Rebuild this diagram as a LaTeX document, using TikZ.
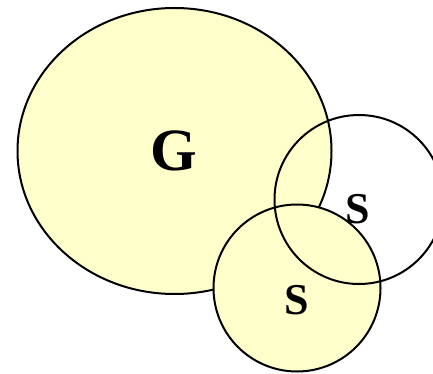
\documentclass[tikz,border=0pt]{standalone}
\usepackage{fontspec}
\setmainfont{Liberation Serif}
\usepackage{xcolor}
\definecolor{PaleYellow}{RGB}{255,255,204}
\usetikzlibrary{positioning}
\tikzset{
  setfill/.style={draw=black,fill=PaleYellow,line width=2pt},
  setline/.style={draw=black,line width=2pt},
  biglabel/.style={inner sep=0pt,font=\bfseries\fontsize{60}{60}\selectfont},
  smalllabel/.style={inner sep=0pt,font=\bfseries\fontsize{44}{44}\selectfont},
}
\begin{document}
\begin{tikzpicture}[x=1pt,y=-1pt]
  \useasboundingbox (0,0) rectangle (433,374);
  \clip (0,0) rectangle (433,374);
  % big set G
  \path[setfill] (174.5,151) ellipse [x radius=157, y radius=143];
  % lower set, filled over G
  \path[setfill] (297,288) circle [radius=83.5];
  % right set, outline only
  \path[setline] (359,199.5) circle [radius=84.5];
  \node[biglabel] (g) at (174,151) {G};
  \node[smalllabel] (sright) at (358,209) {S};
  \node[smalllabel] (slow) at (297,300) {S};
\end{tikzpicture}
\end{document}
